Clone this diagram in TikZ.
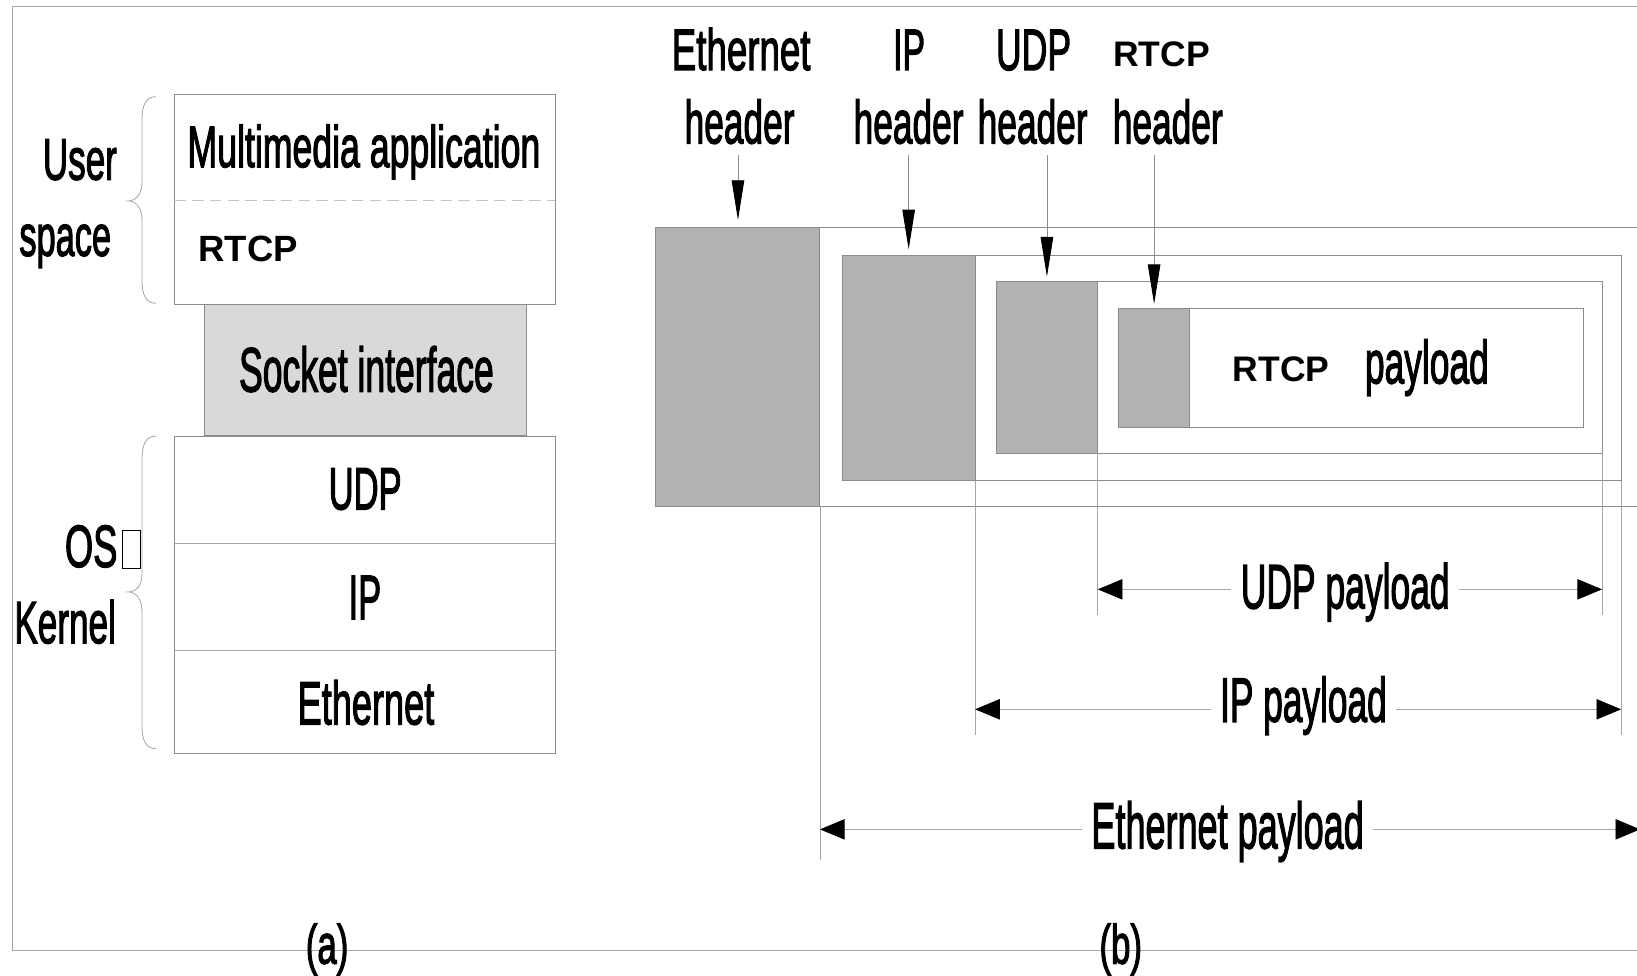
\documentclass[tikz,border=0pt]{standalone}
\usepackage{fontspec}
\setmainfont{Liberation Sans}
\newfontfamily\heavysans[RawFeature={embolden=2.5}]{Liberation Sans}
\usetikzlibrary{arrows.meta,calc}
\definecolor{hdrgray}{HTML}{B2B2B2}
\definecolor{sockgray}{HTML}{D9D9D9}
\definecolor{edgegray}{HTML}{8C8C8C}
\definecolor{linegray}{HTML}{A6A6A6}
\definecolor{dashgray}{HTML}{C4C4C4}
% narrow sans label: x-scale, size, text
\newcommand\nlab[3]{\scalebox{#1}[1]{\fontsize{#2pt}{#2pt}\heavysans #3}}
% bold label: size, text
\newcommand\blab[2]{{\fontsize{#1pt}{#1pt}\selectfont\bfseries #2}}
\begin{document}
\begin{tikzpicture}[x=1pt,y=-1pt,
  txt/.style={inner sep=0pt,anchor=base},
  dimlab/.style={inner ysep=0pt,inner xsep=9pt,anchor=base},
  blk/.style={draw=edgegray,line width=1pt,inner sep=0pt,outer sep=0pt,anchor=north west},
  hdrbox/.style={blk,fill=hdrgray},
  plainbox/.style={blk,fill=white},
  divider/.style={draw=linegray,line width=1pt},
  brace/.style={draw=linegray,line width=0.8pt},
  frameline/.style={draw=linegray,line width=1.2pt},
  extline/.style={draw=linegray,line width=0.8pt},
  downarr/.style={draw=edgegray,line width=0.8pt,-{Triangle[length=38pt,width=12pt,color=black]}},
  dimarr/.style={draw=linegray,line width=0.8pt,-{Triangle[length=23.6pt,width=19.5pt,color=black]}}]
\useasboundingbox (0,0) rectangle (1568,934);
\clip (0,0) rectangle (1568,934);

% outer frame
\draw[frameline] (1600,6) -- (12,6) -- (12,910.6) -- (1600,910.6);

% ---------- (a) protocol stack ----------
\node[plainbox,minimum width=365pt,minimum height=201.6pt] (user) at (167,90.4) {};
\draw[draw=dashgray,line width=1pt,dash pattern=on 11pt off 6pt]
  ([yshift=-101.2pt]user.north west) -- ([yshift=-101.2pt]user.north east);
\node[blk,fill=sockgray,minimum width=308.4pt,minimum height=125.6pt] (sock) at (196,292) {};
\node[plainbox,minimum width=365pt,minimum height=304pt] (kern) at (167,418) {};
\draw[divider] ([yshift=-103pt]kern.north west) -- ([yshift=-103pt]kern.north east);
\draw[divider] ([yshift=-205pt]kern.north west) -- ([yshift=-205pt]kern.north east);

\node[txt] (mma) at (348.6,160) {\nlab{0.61}{56}{Multimedia application}};
\node[txt,anchor=base west] (rtcpa) at (190,250) {\blab{35}{RTCP}};
\node[txt] (socktxt) at (351,375) {\nlab{0.567}{60}{Socket interface}};
\node[txt] (udpa) at (349.8,487.8) {\nlab{0.58}{57}{UDP}};
\node[txt] (ipa) at (349.5,593) {\nlab{0.55}{60}{IP}};
\node[txt] (etha) at (350.5,693.8) {\nlab{0.593}{58.4}{Ethernet}};

% braces
\draw[brace] (149.6,92.6) .. controls (140,92.6) and (136,100) .. (136,115)
  -- (136,175) .. controls (136,186) and (130,192.5) .. (122.8,192.5)
  .. controls (130,192.5) and (136,199) .. (136,210)
  -- (136,268) .. controls (136,283) and (140,290.5) .. (149.6,290.5);
\draw[brace] (149.6,417.7) .. controls (140,417.7) and (136,425) .. (136,440)
  -- (136,550) .. controls (136,561) and (130,567) .. (122.8,567)
  .. controls (130,567) and (136,574) .. (136,585)
  -- (136,695) .. controls (136,710) and (140,717) .. (149.6,717);

\node[txt] (usr1) at (76.5,172) {\nlab{0.60}{56}{User}};
\node[txt] (usr2) at (62.5,245) {\nlab{0.593}{55.5}{space}};
\node[txt,anchor=base west] (os) at (62,543) {\nlab{0.61}{57}{OS}};
\draw[line width=0.8pt] ($(os.base east)+(4.6,1)$) rectangle ++(17.2,-36);
\node[txt] (kernel) at (62.4,616) {\nlab{0.59}{57}{Kernel}};
\node[txt] (capa) at (313.3,923) {\nlab{0.63}{53}{(a)}};

% ---------- (b) encapsulation ----------
\node[hdrbox,minimum width=157.1pt,minimum height=267.3pt] (ethh) at (628.3,218) {};
\draw[blk] (ethh.north east) -- ++(830,0);
\draw[blk] (ethh.south east) -- ++(830,0);
\node[plainbox,minimum width=746.1pt,minimum height=216.1pt] (ipo) at (806.7,244.3) {};
\node[hdrbox,minimum width=127.3pt,minimum height=216.1pt] (iph) at (806.7,244.3) {};
\node[plainbox,minimum width=580.4pt,minimum height=164.4pt] (udpo) at (954.1,269.8) {};
\node[hdrbox,minimum width=97.4pt,minimum height=164.4pt] (udph) at (954.1,269.8) {};
\node[plainbox,minimum width=445.2pt,minimum height=114pt] (rto) at (1071.6,295.3) {};
\node[hdrbox,minimum width=67.7pt,minimum height=114pt] (rth) at (1071.6,295.3) {};

\node[txt,anchor=base west] (rtp) at (1180.7,365.6) {\blab{34}{RTCP}};
\node[txt] (pay) at (1366.7,367.2) {\nlab{0.584}{58}{payload}};

% header labels
\node[txt] (el1) at (709.9,67) {\nlab{0.63}{55.8}{Ethernet}};
\node[txt] (el2) at (708.4,137.3) {\nlab{0.583}{58}{header}};
\node[txt] (il1) at (870.7,67) {\nlab{0.58}{55.8}{IP}};
\node[txt] (il2) at (870.3,137.3) {\nlab{0.583}{58}{header}};
\node[txt] (ul1) at (990,67) {\nlab{0.61}{55.8}{UDP}};
\node[txt] (ul2) at (989.1,137.3) {\nlab{0.583}{58}{header}};
\node[txt] (rl1) at (1112.5,63.9) {\blab{34}{RTCP}};
\node[txt] (rl2) at (1118.5,137.3) {\nlab{0.583}{58}{header}};

\draw[downarr] ($(el2.base -| ethh.north)+(0,11.2)$) -- ($(ethh.north)+(0,-7.3)$);
\draw[downarr] ($(il2.base -| iph.north)+(0,11.2)$) -- ($(iph.north)+(0,-5.5)$);
\draw[downarr] ($(ul2.base -| udph.north)+(0,11.2)$) -- ($(udph.north)+(0,-4.8)$);
\draw[downarr] ($(rl2.base -| rth.north)+(0,11.2)$) -- ($(rth.north)+(0,-4.1)$);

% extension lines below the frames
\path (udph.south east) ++(0,154.8) coordinate (uLb);
\path (udpo.south east) ++(0,154.8) coordinate (uRb);
\path (iph.south east) ++(0,243.6) coordinate (iLb);
\path (ipo.south east) ++(0,243.6) coordinate (iRb);
\path (ethh.south east) ++(0,338.5) coordinate (eLb);
\draw[extline] (udph.south east) -- (uLb);
\draw[extline] (udpo.south east) -- (uRb);
\draw[extline] (iph.south east) -- (iLb);
\draw[extline] (ipo.south east) -- (iRb);
\draw[extline] (ethh.south east) -- (eLb);

% payload spans
\path (udph.south east) ++(0,130.3) coordinate (uL);
\path (udpo.south east) ++(0,130.3) coordinate (uR);
\path (iph.south east) ++(0,219) coordinate (iL);
\path (ipo.south east) ++(0,219) coordinate (iR);
\path (ethh.south east) ++(0,309.1) coordinate (eL);
\coordinate (eR) at (1571,794.4);

\node[dimlab] (upl) at (1288.5,582.7) {\nlab{0.566}{60}{UDP payload}};
\node[dimlab] (ipl) at (1248.5,691.3) {\nlab{0.563}{60}{IP payload}};
\node[dimlab] (epl) at (1175.9,812.6) {\nlab{0.553}{62.4}{Ethernet payload}};

\draw[dimarr] (uL -| upl.west) -- (uL);
\draw[dimarr] (uR -| upl.east) -- (uR);
\draw[dimarr] (iL -| ipl.west) -- (iL);
\draw[dimarr] (iR -| ipl.east) -- (iR);
\draw[dimarr] (eL -| epl.west) -- (eL);
\draw[dimarr] (eR -| epl.east) -- (eR);

\node[txt] (capb) at (1073.5,923) {\nlab{0.63}{53}{(b)}};
\end{tikzpicture}
\end{document}
